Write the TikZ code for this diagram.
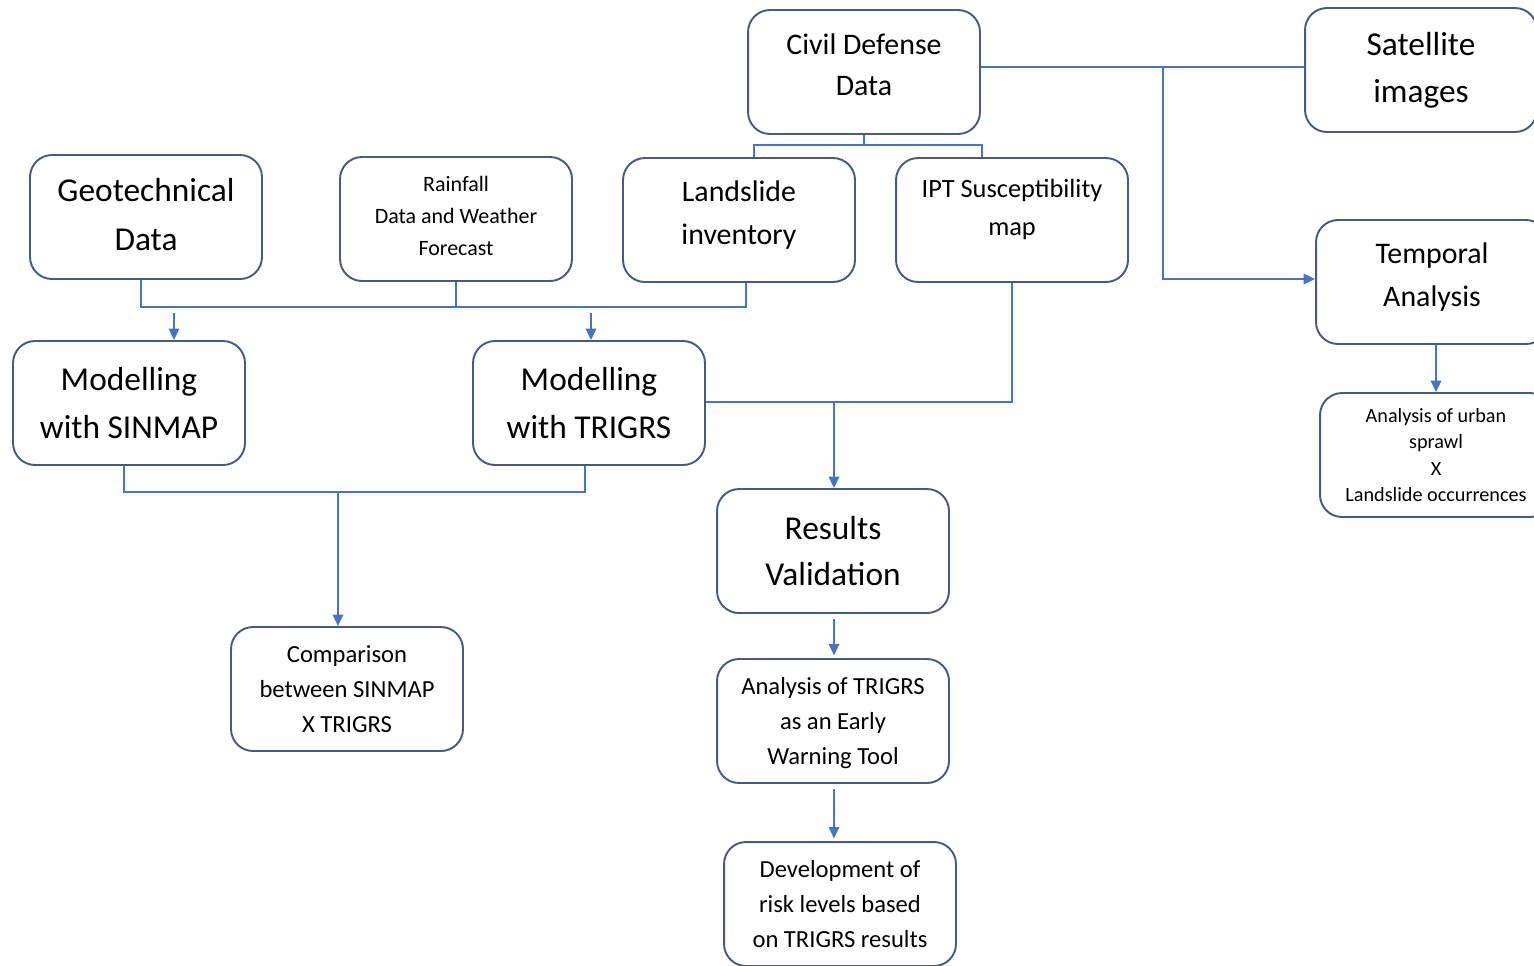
\documentclass[tikz,border=0pt]{standalone}
\usepackage{fontspec}
\setmainfont{Carlito}
\usetikzlibrary{arrows.meta}
\definecolor{linkblue}{HTML}{4775C2}
\definecolor{boxline}{HTML}{4A5A78}
\tikzset{
	box/.style={draw=boxline,line width=1.1pt,rounded corners=0.44cm,minimum width=4.64cm,minimum height=2.48cm,align=center,inner sep=0pt},
	link/.style={draw=linkblue,line width=0.85pt},
	arr/.style={link,-{Triangle[width=6pt,length=6.5pt]}},
	fs/.style n args={2}{font=\fontsize{#1}{#2}\selectfont}
}
\begin{document}
\begin{tikzpicture}[x=0.02cm,y=-0.02cm]%FLUXOGRAMA
		\clip (0,0) rectangle (1534,965);
		\node[box,fs={17}{23.2},text depth=8pt] (civil) at (864,72) {Civil Defense\\Data};
		\node[box,fs={19}{26.6}] (sat) at (1421,70) {Satellite\\images};
		\node[box,fs={19}{27.8},text depth=2.8pt] (geo) at (146,217) {Geotechnical\\Data};
		\node[box,fs={12.5}{18.1},text depth=3.4pt] (rain) at (456,219) {Rainfall\\Data and Weather\\Forecast};
		\node[box,fs={17}{24.4},text depth=8pt] (land) at (739,220) {Landslide\\inventory};
		\node[box,fs={15}{21.5},text depth=14.3pt] (ipt) at (1012,220) {IPT Susceptibility\\map};
		\node[box,fs={17}{24.4},text depth=8pt] (temp) at (1432,282) {Temporal\\Analysis};
		\node[box,fs={19}{27.8}] (sinmap) at (129,403) {Modelling\\with SINMAP};
		\node[box,fs={19}{27.8}] (trigrs) at (589,403) {Modelling\\with TRIGRS};
		\node[box,fs={11.5}{15},text depth=-3.4pt] (urban) at (1436,455) {Analysis of urban\\sprawl\\X\\Landslide occurrences};
		\node[box,fs={19}{26.6}] (valid) at (833,551) {Results\\Validation};
		\node[box,fs={14}{19.8}] (comp) at (347,689) {Comparison\\between SINMAP\\X TRIGRS};
		\node[box,fs={14}{19.8},text depth=-1pt] (ana) at (833,721) {Analysis of TRIGRS\\as an Early\\Warning Tool};
		\node[box,fs={14}{19.8}] (dev) at (840,904) {Development of\\risk levels based\\on TRIGRS results};
		% junctions
		\coordinate (cl) at (754,145);
		\coordinate (cr) at (982,145);
		\coordinate (sj) at (1163,67);
		\coordinate (tj) at (1163,279);
		\coordinate (b1) at (141,307);
		\coordinate (b2) at (746,307);
		\coordinate (a1) at (174,313);
		\coordinate (a2) at (591,313);
		\coordinate (rj) at (834,402);
		\coordinate (s1) at (124,492);
		\coordinate (s2) at (585,492);
		\coordinate (cj) at (338,492);
		% civil defense branches
		\draw[link] (civil.south) -- (civil.south |- cl);
		\draw[link] (land.north -| cl) |- (cr) -- (ipt.north -| cr);
		\draw[link] (civil.east |- sj) -- (sat.west |- sj);
		\draw[arr] (sj) -- (tj) -- (temp.west |- tj);
		\draw[arr] (temp.south -| urban.north) -- (urban.north);
		% input data to models
		\draw[link] (geo.south -| b1) |- (b2) -- (land.south -| b2);
		\draw[link] (rain.south) -- (rain.south |- b1);
		\draw[arr] (a1) -- (sinmap.north -| a1);
		\draw[arr] (a2) -- (trigrs.north -| a2);
		% validation
		\draw[link] (ipt.south) |- (trigrs.east |- rj);
		\draw[arr] (rj) -- (valid.north -| rj);
		\draw[link] (sinmap.south -| s1) |- (s2) -- (trigrs.south -| s2);
		\draw[arr] (cj) -- (comp.north -| cj);
		\draw[arr,shorten <=2.8pt,shorten >=1.5pt] (valid.south -| rj) -- (ana.north -| rj);
		\draw[arr,shorten <=2.8pt,shorten >=1.5pt] (ana.south -| rj) -- (dev.north -| rj);
\end{tikzpicture}
\end{document}
